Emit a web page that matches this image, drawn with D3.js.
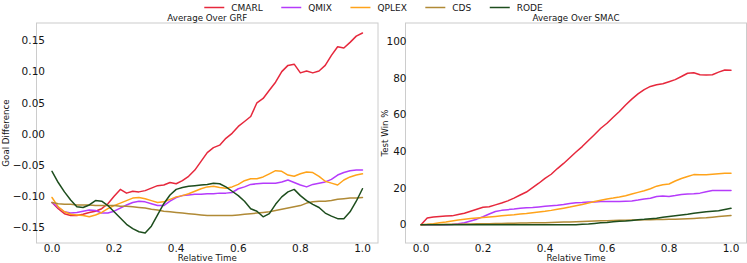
<!DOCTYPE html>
<html>
<head>
<meta charset="utf-8">
<script src="https://cdn.jsdelivr.net/npm/d3@7"></script>
<style>
  body { margin: 0; background: #fff; }
  svg { display: block; font-family: "DejaVu Sans", sans-serif; }
  text { fill: #151515; }
</style>
</head>
<body>
<svg id="chart" width="747" height="263"></svg>
<script>
// relative time grid (0, 0.02, ... 1.0)
const steps = d3.range(51).map(i => i / 50);

const methods = ['CMARL', 'QMIX', 'QPLEX', 'CDS', 'RODE'];
const colors = ['#e6283c', '#b53bfb', '#ffa31a', '#b08a36', '#1d4d1d'];

// Average over GRF - goal difference
const grfCMARL = [-0.110,-0.120,-0.128,-0.131,-0.131,-0.129,-0.126,-0.124,-0.120,-0.112,-0.100,
  -0.089,-0.095,-0.092,-0.093,-0.091,-0.087,-0.083,-0.082,-0.078,-0.080,
  -0.075,-0.068,-0.058,-0.044,-0.030,-0.022,-0.018,-0.007,0.001,0.012,
  0.020,0.028,0.050,0.057,0.070,0.083,0.100,0.110,0.112,0.098,
  0.101,0.098,0.101,0.110,0.126,0.140,0.138,0.147,0.157,0.162];
const grfQMIX = [-0.110,-0.118,-0.125,-0.127,-0.126,-0.124,-0.122,-0.123,-0.127,-0.127,-0.124,
  -0.119,-0.114,-0.110,-0.108,-0.109,-0.112,-0.115,-0.115,-0.108,-0.102,
  -0.099,-0.098,-0.097,-0.097,-0.096,-0.096,-0.095,-0.095,-0.094,-0.088,
  -0.085,-0.081,-0.080,-0.079,-0.079,-0.079,-0.077,-0.074,-0.078,-0.082,
  -0.085,-0.081,-0.079,-0.077,-0.073,-0.066,-0.062,-0.059,-0.058,-0.058];
const grfQPLEX = [-0.102,-0.117,-0.125,-0.129,-0.130,-0.131,-0.133,-0.130,-0.126,-0.120,-0.115,
  -0.111,-0.107,-0.103,-0.102,-0.104,-0.107,-0.110,-0.109,-0.105,-0.101,
  -0.099,-0.096,-0.092,-0.088,-0.085,-0.084,-0.086,-0.087,-0.085,-0.081,
  -0.075,-0.072,-0.072,-0.069,-0.064,-0.059,-0.060,-0.066,-0.068,-0.064,
  -0.061,-0.062,-0.068,-0.076,-0.079,-0.082,-0.074,-0.069,-0.066,-0.064];
const grfCDS = [-0.110,-0.112,-0.113,-0.113,-0.114,-0.114,-0.114,-0.115,-0.115,-0.115,-0.115,
  -0.116,-0.116,-0.117,-0.118,-0.119,-0.121,-0.122,-0.124,-0.125,-0.126,
  -0.127,-0.128,-0.129,-0.130,-0.131,-0.131,-0.131,-0.131,-0.131,-0.130,
  -0.129,-0.128,-0.127,-0.126,-0.125,-0.123,-0.121,-0.119,-0.117,-0.115,
  -0.111,-0.109,-0.108,-0.108,-0.107,-0.105,-0.104,-0.103,-0.103,-0.102];
const grfRODE = [-0.060,-0.078,-0.093,-0.106,-0.117,-0.118,-0.114,-0.107,-0.108,-0.115,-0.125,
  -0.135,-0.145,-0.152,-0.157,-0.159,-0.148,-0.130,-0.112,-0.098,-0.089,
  -0.086,-0.084,-0.083,-0.082,-0.081,-0.079,-0.080,-0.085,-0.092,-0.099,
  -0.108,-0.120,-0.124,-0.133,-0.128,-0.113,-0.101,-0.093,-0.089,-0.099,
  -0.107,-0.113,-0.118,-0.127,-0.132,-0.136,-0.136,-0.125,-0.108,-0.088];

// Average over SMAC - test win %
const smacCMARL = [0,3.6,4.2,4.5,4.7,4.8,5.5,6.2,7.3,8.4,9.5,
  9.8,10.8,11.8,13.0,14.5,16.2,17.8,20.2,22.6,25.2,
  27.5,30.6,33.4,36.5,39.6,42.6,45.9,49.2,52.6,55.3,
  58.6,61.7,65.3,68.5,71.3,73.7,75.4,76.3,76.9,78.0,
  79.1,80.8,82.6,82.9,81.8,81.6,81.8,83.2,84.4,84.2];
const smacQMIX = [0,0,0,0,0,0.1,0.5,1.0,2.0,3.0,4.3,
  5.8,7.2,7.8,8.2,8.5,8.9,9.2,9.4,9.7,10.0,
  10.3,10.6,11.0,11.6,12.0,12.1,12.3,12.4,12.6,12.7,
  12.7,12.7,12.8,12.9,13.4,14.0,14.4,15.4,15.6,15.4,
  15.9,16.5,16.7,16.9,17.2,18.0,18.6,18.7,18.6,18.6];
const smacQPLEX = [0,0.2,0.5,1.0,1.4,2.0,2.5,2.9,3.3,3.6,3.9,
  4.2,4.5,4.8,5.1,5.4,5.8,6.1,6.5,6.9,7.3,
  7.8,8.4,9.0,9.6,10.3,11.0,11.8,12.6,13.3,14.0,
  14.5,15.1,15.8,16.7,17.6,18.5,19.6,21.0,21.8,22.2,
  23.8,25.2,26.3,27.3,27.2,27.2,27.5,27.8,28.0,28.1];
const smacCDS = [0,0.04,0.08,0.12,0.16,0.2,0.26,0.32,0.38,0.44,0.5,
  0.56,0.62,0.68,0.74,0.8,0.86,0.92,0.98,1.04,1.1,
  1.2,1.3,1.4,1.5,1.6,1.7,1.8,1.95,2.1,2.2,
  2.3,2.4,2.45,2.55,2.6,2.65,2.7,2.8,2.85,2.9,
  3.0,3.1,3.25,3.4,3.6,3.8,4.1,4.4,4.7,5.0];
const smacRODE = [0,0,0,0,0,0,0,0,0,0,0,
  0,0,0,0,0,0,0,0,0,0,
  0,0,0,0,0,0.2,0.4,0.7,1.0,1.2,
  1.6,1.8,2.0,2.3,2.7,2.9,3.2,3.5,4.0,4.5,
  4.9,5.3,5.7,6.2,6.6,7.0,7.3,7.6,8.3,8.9];

const grfSeries = [grfCMARL, grfQMIX, grfQPLEX, grfCDS, grfRODE];
const smacSeries = [smacCMARL, smacQMIX, smacQPLEX, smacCDS, smacRODE];

const xTicks = [0, 0.2, 0.4, 0.6, 0.8, 1.0];
const grfTicks = [-0.15, -0.10, -0.05, 0.00, 0.05, 0.10, 0.15];
const smacTicks = [0, 20, 40, 60, 80, 100];

const svg = d3.select('#chart');
const plotTop = 23, plotBottom = 243;

// matplotlib style 5% margins
const pad = (lo, hi) => { const m = (hi - lo) * 0.05; return [lo - m, hi + m]; };

function drawPanel(opts) {
  const { left, right, series, yDomain, yTicks, yFmt, title, ylabel, ylabelX, tickRight } = opts;
  const x = d3.scaleLinear().domain(pad(0, 1)).range([left, right]);
  const y = d3.scaleLinear().domain(yDomain).range([plotBottom, plotTop]);
  const g = svg.append('g');

  g.append('rect')
    .attr('x', left).attr('y', plotTop)
    .attr('width', right - left).attr('height', plotBottom - plotTop)
    .attr('fill', 'none').attr('stroke', '#cccccc').attr('stroke-width', 1);

  const line = d3.line().x((d, i) => x(steps[i])).y(d => y(d));
  series.forEach((s, k) => {
    g.append('path')
      .datum(s)
      .attr('d', line)
      .attr('fill', 'none')
      .attr('stroke', colors[k])
      .attr('stroke-width', 1.5)
      .attr('stroke-linejoin', 'round')
      .attr('stroke-linecap', 'round');
  });

  // x tick labels
  g.selectAll('.xt').data(xTicks).enter().append('text')
    .attr('x', d => x(d)).attr('y', 252)
    .attr('text-anchor', 'middle')
    .attr('font-size', '10.5px')
    .text(d3.format('.1f'));

  // y tick labels
  g.selectAll('.yt').data(yTicks).enter().append('text')
    .attr('x', tickRight).attr('y', d => y(d))
    .attr('dy', '0.36em')
    .attr('text-anchor', 'end')
    .attr('font-size', '10.5px')
    .text(d => yFmt(d).replace('-', '\u2212'));

  g.append('text')
    .attr('x', (left + right) / 2).attr('y', 20.5)
    .attr('text-anchor', 'middle').attr('font-size', '8.7px')
    .text(title);

  g.append('text')
    .attr('x', (left + right) / 2).attr('y', 260.5)
    .attr('text-anchor', 'middle').attr('font-size', '8.7px')
    .text('Relative Time');

  g.append('text')
    .attr('transform', `translate(${ylabelX},${(plotTop + plotBottom) / 2}) rotate(-90)`)
    .attr('text-anchor', 'middle').attr('font-size', '8.7px')
    .text(ylabel);
}

drawPanel({
  left: 36.5, right: 378,
  series: grfSeries,
  yDomain: pad(d3.min(grfSeries.flat()), d3.max(grfSeries.flat())),
  yTicks: grfTicks, yFmt: d3.format('.2f'),
  title: 'Average Over GRF', ylabel: 'Goal Difference',
  ylabelX: 8.5, tickRight: 45
});

drawPanel({
  left: 405.5, right: 746.5,
  series: smacSeries,
  yDomain: [-10, 110],
  yTicks: smacTicks, yFmt: d3.format('d'),
  title: 'Average Over SMAC', ylabel: 'Test Win %',
  ylabelX: 387.5, tickRight: 406.5
});

// legend across the top, centred on the figure
const legend = svg.append('g');
let cx = 0;
methods.forEach((m, k) => {
  const item = legend.append('g').attr('transform', `translate(${cx},0)`);
  item.append('line')
    .attr('x1', 0).attr('x2', 20).attr('y1', 7.5).attr('y2', 7.5)
    .attr('stroke', colors[k]).attr('stroke-width', 1.5);
  const t = item.append('text')
    .attr('x', 27).attr('y', 11)
    .attr('font-size', '9px')
    .text(m);
  cx += 27 + t.node().getComputedTextLength() + 18.5;
});
const legendW = cx - 18.5;
legend.attr('transform', `translate(${373.5 - legendW / 2},0)`);
</script>
</body>
</html>
